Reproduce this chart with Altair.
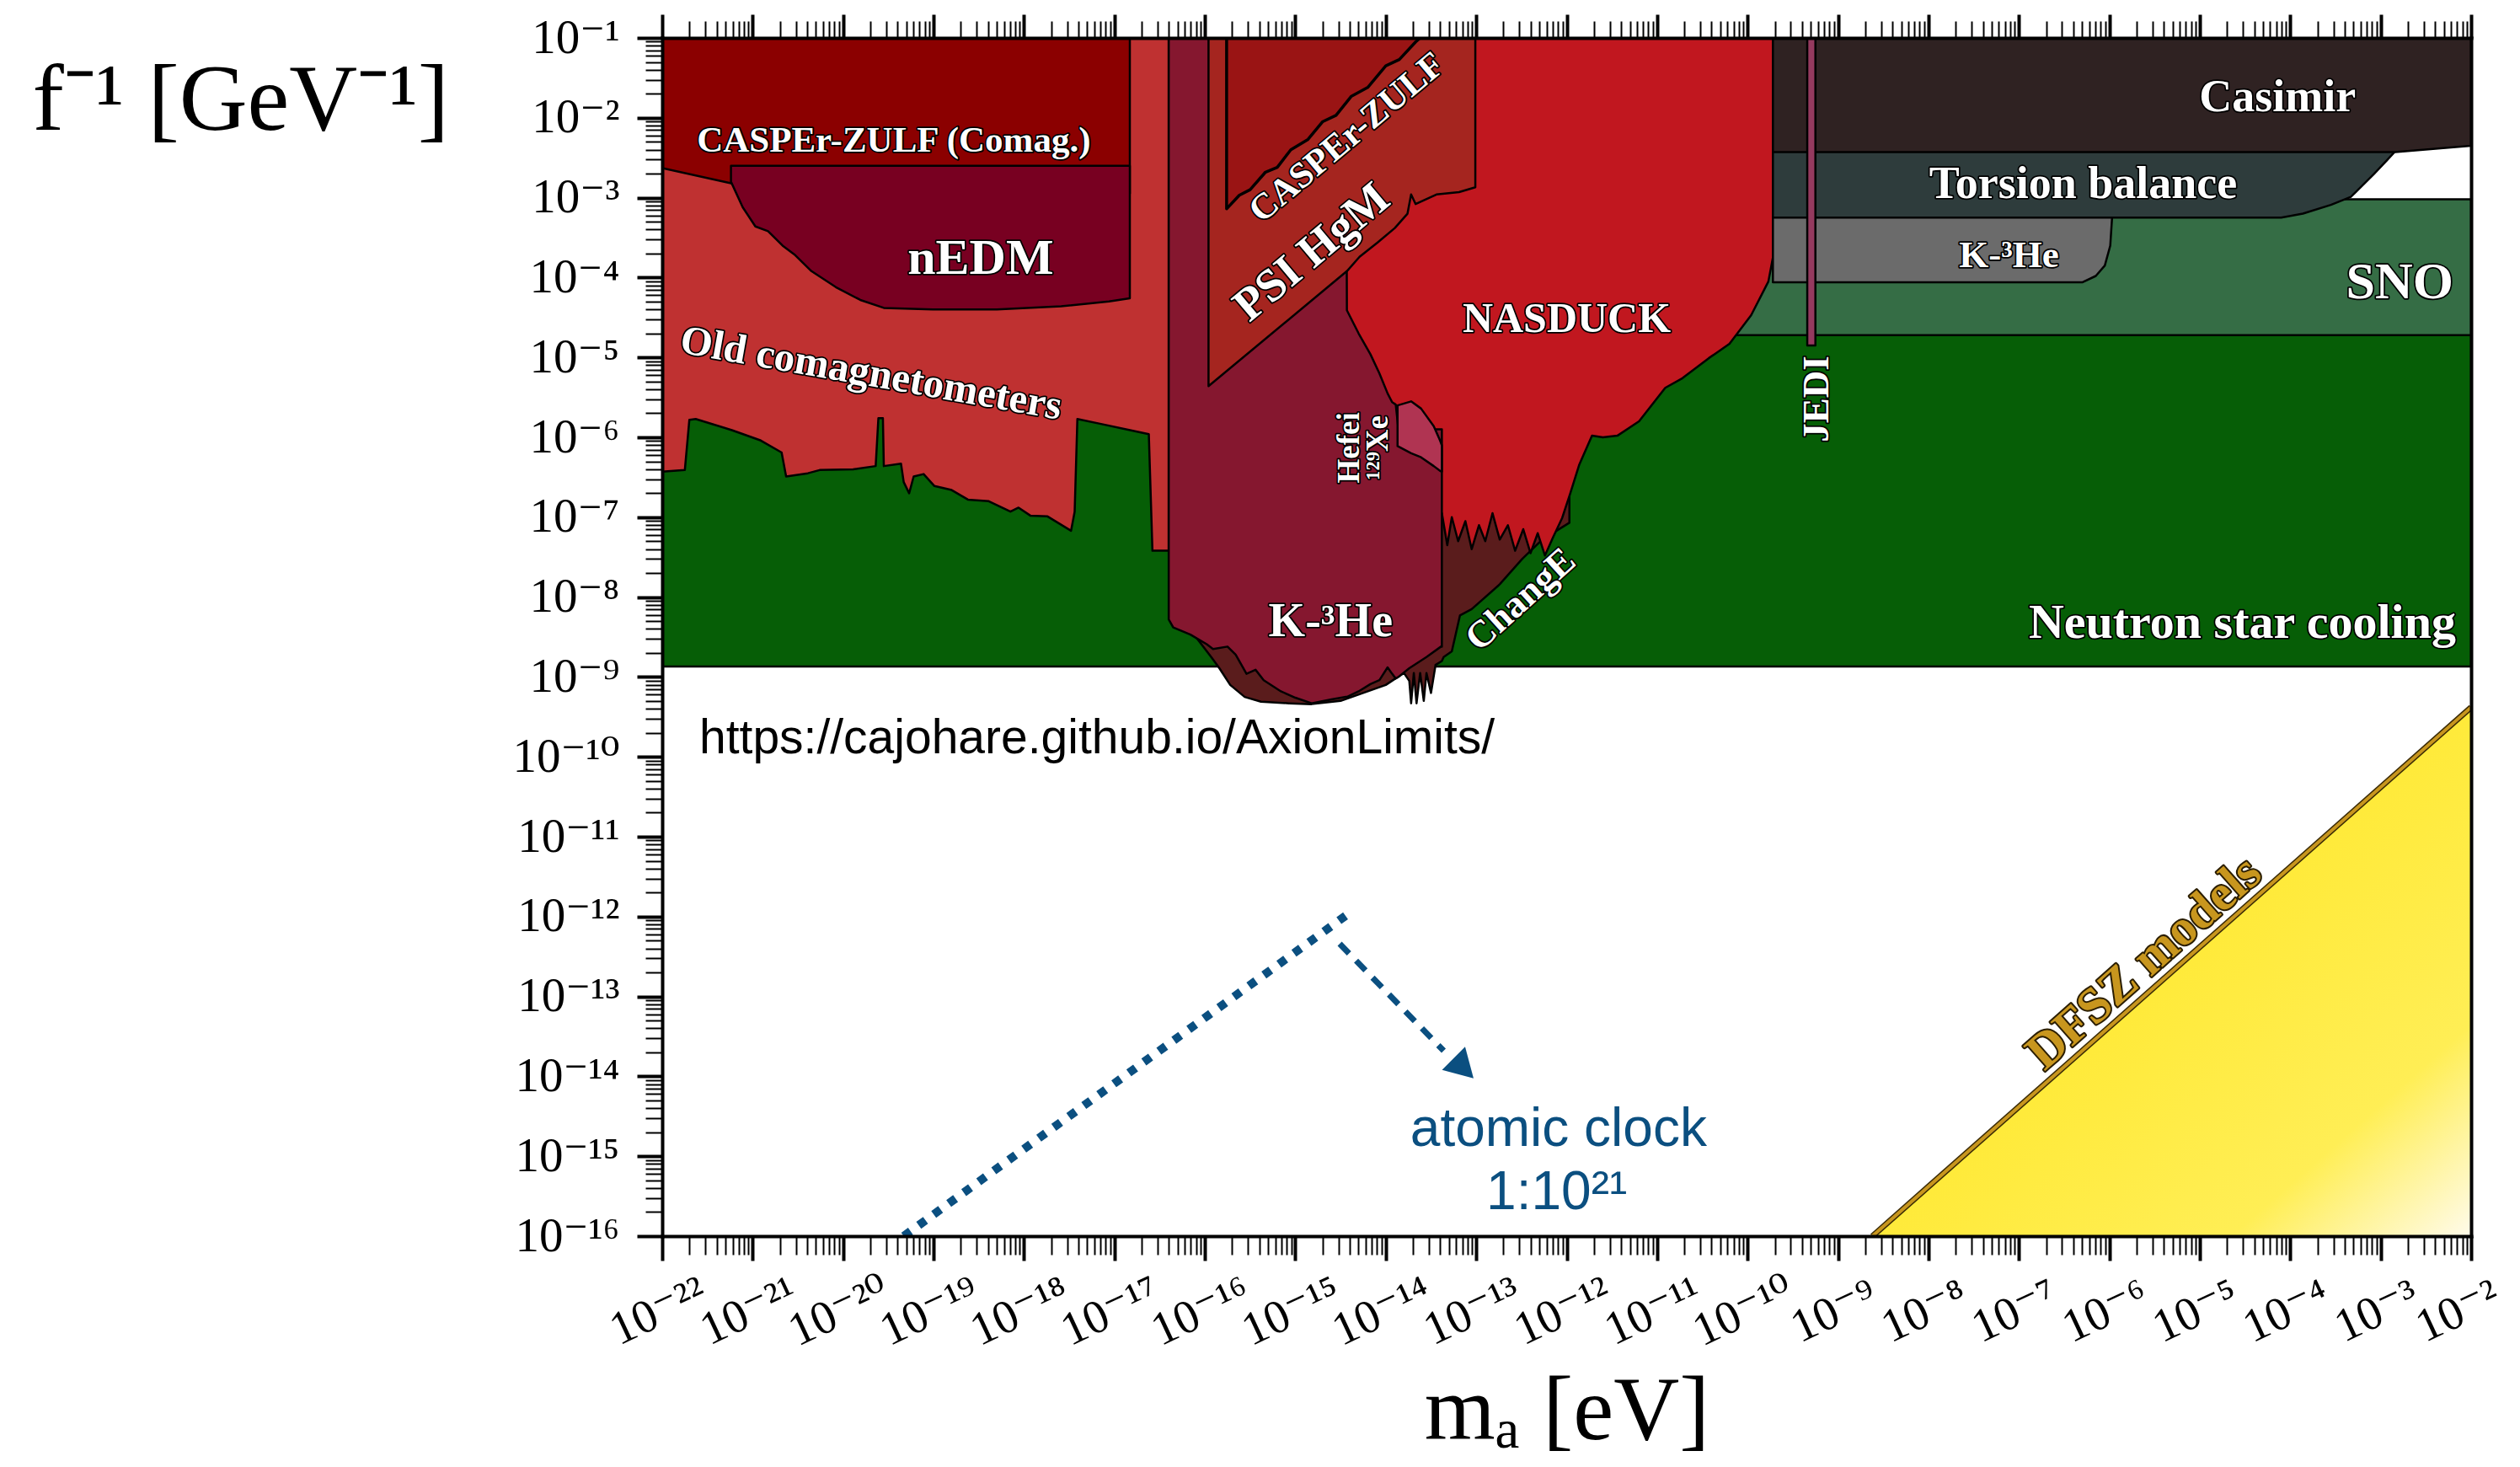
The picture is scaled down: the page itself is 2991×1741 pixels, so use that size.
import json
import altair as alt
import pandas as pd

SERIF = "Liberation Serif"
TICKFONT = "Liberation Serif, DejaVu Serif"
SANS = "Liberation Sans"

# ---------------- data (log10 exponents) ----------------
# x = log10(m_a / eV), y = log10(f^-1 / GeV^-1)
NS_X, NS_LO, NS_TOP = [-22.0, -2.0], [-8.87, -8.87], -4.72
SNO_X, SNO_LO, SNO_TOP = [-10.5, -2.0], [-4.72, -4.72], -3.02

OC_X = [-22.00, -21.75, -21.70, -21.63, -21.23, -20.91, -20.68, -20.63, -20.39, -20.26,
        -19.89, -19.64, -19.61, -19.56, -19.55, -19.36, -19.33, -19.27, -19.22, -19.11,
        -18.99, -18.80, -18.62, -18.39, -18.15, -18.06, -17.93, -17.74, -17.48, -17.44,
        -17.41, -17.16, -16.62, -16.58, -16.40]
OC_LO = [-6.43, -6.41, -5.78, -5.77, -5.91, -6.04, -6.19, -6.49, -6.45, -6.41,
         -6.40, -6.36, -5.76, -5.76, -6.36, -6.33, -6.56, -6.70, -6.49, -6.46,
         -6.61, -6.66, -6.78, -6.80, -6.93, -6.88, -6.98, -6.99, -7.17, -6.93,
         -5.77, -5.83, -5.96, -7.42, -7.42]
OC_TOP = -1.0

CC_X = [-22.00, -21.24, -20.83, -19.50, -18.50, -18.30, -18.10, -17.90, -17.70, -17.50,
        -17.30, -17.10, -16.95, -16.83]
CC_LO = [-2.63, -2.82, -2.94, -2.96, -2.96, -2.92, -2.99, -2.93, -2.99, -2.92,
         -2.98, -2.93, -2.97, -2.95]
CC_TOP = -1.0

NEDM_X = [-21.24, -21.11, -20.97, -20.83, -20.67, -20.53, -20.35, -20.08, -19.81, -19.55,
          -19.01, -18.30, -17.59, -17.06, -16.83]
NEDM_LO = [-2.80, -3.12, -3.36, -3.42, -3.60, -3.72, -3.92, -4.12, -4.28, -4.38,
           -4.40, -4.40, -4.36, -4.30, -4.26]
NEDM_TOP = -2.6

CH_X = [-16.10, -15.93, -15.84, -15.72, -15.56, -15.38, -15.07, -14.82, -14.50, -14.00,
        -13.80, -13.74, -13.72, -13.69, -13.66, -13.62, -13.58, -13.55, -13.50, -13.45,
        -13.38, -13.36, -13.27, -13.18, -13.05, -12.74, -12.49, -12.27, -11.97]
CH_LO = [-8.50, -8.75, -8.89, -9.10, -9.25, -9.31, -9.33, -9.34, -9.30, -9.10,
         -8.95, -9.05, -9.33, -8.95, -9.33, -8.95, -9.30, -8.95, -9.20, -8.85,
         -8.80, -8.75, -8.68, -8.23, -8.15, -7.84, -7.52, -7.28, -7.07]
CH_TOP = -5.0

NAS_X = [-14.44, -13.38, -13.32, -13.27, -13.20, -13.12, -13.05, -12.97, -12.90, -12.82,
         -12.74, -12.65, -12.57, -12.48, -12.40, -12.32, -12.24, -12.15, -12.05, -11.96,
         -11.86, -11.72, -11.60, -11.44, -11.20, -10.91, -10.72, -10.43, -10.20, -9.96,
         -9.77, -9.72]
NAS_LO = [-7.00, -6.95, -7.35, -7.00, -7.30, -7.05, -7.40, -7.10, -7.30, -6.95,
          -7.28, -7.10, -7.42, -7.15, -7.45, -7.20, -7.48, -7.25, -7.01, -6.70,
          -6.34, -5.98, -6.00, -5.98, -5.80, -5.38, -5.26, -5.01, -4.83, -4.47,
          -4.05, -3.75]
NAS_TOP = -1.0

K3B_X = [-16.40, -16.35, -16.16, -15.98, -15.91, -15.75, -15.66, -15.54, -15.44, -15.35,
         -15.16, -15.00, -14.82, -14.60, -14.44, -14.43, -14.30, -14.17, -14.07, -13.98,
         -13.93, -13.89, -13.86, -13.74, -13.55, -13.39, -13.38]
K3B_LO = [-8.28, -8.38, -8.47, -8.59, -8.65, -8.62, -8.72, -8.96, -8.91, -9.04,
          -9.18, -9.26, -9.33, -9.28, -9.25, -9.25, -9.18, -9.09, -9.04, -8.88,
          -8.96, -9.02, -9.00, -8.89, -8.75, -8.62, -8.62]
K3B_HI = [-1.00, -1.00, -1.00, -1.00, -1.00, -1.00, -1.00, -1.00, -1.00, -1.00,
          -1.00, -1.00, -1.00, -1.00, -1.00, -4.41, -4.70, -4.96, -5.20, -5.45,
          -5.56, -5.59, -5.90, -5.90, -5.90, -5.90, -5.90]

HF_X = [-13.87, -13.72, -13.61, -13.47, -13.40, -13.38]
HF_LO = [-6.11, -6.20, -6.25, -6.36, -6.42, -6.43]
HF_HI = [-5.60, -5.55, -5.64, -5.86, -6.04, -6.10]

PSI_X = [-15.96, -14.43, -14.29, -14.09, -13.90, -13.76, -13.72, -13.67, -13.44, -13.19, -13.01]
PSI_LO = [-5.36, -3.92, -3.74, -3.56, -3.38, -3.20, -2.96, -3.08, -2.96, -2.93, -2.87]
PSI_TOP = -1.0

CZ_X = [-15.76, -15.62, -15.50, -15.33, -15.20, -15.05, -14.86, -14.70, -14.55, -14.38,
        -14.20, -14.00, -13.85, -13.67, -13.60]
CZ_LO = [-3.14, -2.97, -2.90, -2.68, -2.62, -2.40, -2.27, -2.05, -1.97, -1.73,
         -1.62, -1.35, -1.27, -1.05, -0.98]
CZ_TOP = -1.0

K3R_X = [-9.72, -6.30, -6.15, -6.05, -5.99, -5.97]
K3R_LO = [-4.06, -4.06, -3.98, -3.85, -3.60, -3.25]
K3R_TOP = -3.0

TOR_X = [-9.72, -4.10, -3.86, -3.55, -3.33, -3.08, -2.93, -2.84]
TOR_LO = [-3.25, -3.25, -3.20, -3.09, -2.99, -2.71, -2.53, -2.42]
TOR_TOP = -2.0

CAS_X, CAS_LO, CAS_TOP = [-9.72, -2.84, -2.00], [-2.43, -2.43, -2.35], -1.0
JEDI_X, JEDI_LO, JEDI_TOP = [-9.34, -9.25], [-4.85, -4.85], -1.0

DFSZ_X, DFSZ_LO, DFSZ_HI = [-8.62, -2.00], [-16.0, -16.0], [-16.0, -9.38]

CLOCK_DOT_X, CLOCK_DOT_Y = [-19.33, -14.445], [-16.0, -11.99]
CLOCK_DASH_X, CLOCK_DASH_Y = [-14.51, -13.36], [-12.34, -13.68]
CLOCK_HEAD_X, CLOCK_HEAD_Y = [-13.14], [-13.90]

LAB_TEXT = ["CASPEr-ZULF (Comag.)", "nEDM", "Old comagnetometers", "PSI HgM", "CASPEr-ZULF",
            "NASDUCK", "Hefei", "¹²⁹Xe", "K-³He", "ChangE", "JEDI", "Casimir",
            "Torsion balance", "K-³He", "SNO", "Neutron star cooling"]
LAB_X = [-19.44, -18.48, -19.69, -14.82, -14.43, -12.00, -14.40, -14.08, -14.61, -12.51,
         -9.24, -4.14, -6.29, -7.11, -2.79, -4.53]
LAB_Y = [-2.29, -3.76, -5.20, -3.68, -2.25, -4.52, -6.13, -6.13, -8.31, -8.03,
         -5.52, -1.75, -2.84, -3.72, -4.06, -8.33]
LAB_ANG = [0, 0, 10, 320, 320, 0, 270, 270, 0, 318, 270, 0, 0, 0, 0, 0]
LAB_FS = [43, 60, 49, 55, 43, 50, 37, 37, 56, 45, 45, 54, 54, 45, 62, 58]

DFSZ_LAB = ["DFSZ models"]
DFSZ_LAB_X, DFSZ_LAB_Y = [-5.615], [-12.58]

CLOCK_TEXT = ["atomic clock", "1:10²¹"]
CLOCK_TEXT_X = [-12.09, -12.11]
CLOCK_TEXT_Y = [-14.87, -15.66]

URL_TEXT = ["https://cajohare.github.io/AxionLimits/"]
URL_X, URL_Y = [-21.59], [-9.78]

X_EXP = list(range(-22, -1))
Y_EXP = list(range(-16, 0))

# ---------------- helpers ----------------
def pw(v):
    return [10.0 ** e for e in v]


def region(xs, lo, hi):
    if not isinstance(hi, list):
        hi = [hi] * len(xs)
    return pd.DataFrame({"x": pw(xs), "lo": pw(lo), "hi": pw(hi)})


XS = alt.Scale(type="log", domain=[1e-22, 1e-2], nice=False)
YS = alt.Scale(type="log", domain=[1e-16, 1e-1], nice=False)

SUP = str.maketrans("-0123456789", "⁻⁰¹²³⁴⁵⁶⁷⁸⁹")
X_LABELS = ["10" + str(e).translate(SUP) for e in X_EXP]
Y_LABELS = ["10" + str(e).translate(SUP) for e in Y_EXP]
X_TICKS = [m * 10.0 ** k for k in range(-22, -2) for m in range(1, 10)] + [1e-2]
Y_TICKS = [m * 10.0 ** k for k in range(-16, -1) for m in range(1, 10)] + [1e-1]

TEST = "abs(log(datum.value)/LN10 - round(log(datum.value)/LN10)) < 0.01"


def cond(major, minor, test=TEST):
    return {"condition": {"test": test, "value": major}, "value": minor}


x_bottom = alt.Axis(
    orient="bottom", values=X_TICKS,
    labelExpr=f"{TEST} ? {json.dumps(X_LABELS, ensure_ascii=False)}[round(log(datum.value)/LN10) + 22] : ''",
    labelAngle=335, labelAlign="center", labelBaseline="middle", labelPadding=60,
    labelOffset=cond(-16, -5, "datum.value > 0.005"),
    labelFont=TICKFONT, labelFontSize=56, labelColor="black", labelOverlap=False, labelFlush=False,
    tickSize=cond(29, 22), tickWidth=cond(4, 2), tickColor="black",
    domain=True, domainColor="black", domainWidth=4, domainCap="square", grid=False,
    title="mₐ [eV]", titleFont=SERIF, titleFontSize=108, titleFontWeight="normal",
    titleColor="black", titleY=240, titleBaseline="alphabetic", zindex=1)

y_left = alt.Axis(
    orient="left", values=Y_TICKS,
    labelExpr=f"{TEST} ? {json.dumps(Y_LABELS, ensure_ascii=False)}[round(log(datum.value)/LN10) + 16] : ''",
    labelPadding=21, labelBaseline="middle", labelFont=TICKFONT, labelFontSize=57,
    labelColor="black", labelOverlap=False, labelFlush=False,
    tickSize=cond(30, 20), tickWidth=cond(4, 2), tickColor="black",
    domain=True, domainColor="black", domainWidth=4, domainCap="square", grid=False,
    title="f⁻¹ [GeV⁻¹]", titleFont=SERIF, titleFontSize=112, titleFontWeight="normal",
    titleColor="black", titleAngle=0, titleAlign="left", titleBaseline="alphabetic",
    titleX=-748, titleY=108, zindex=1)

x_top = alt.Axis(
    orient="top", values=X_TICKS, labels=False,
    tickSize=cond(28, 20), tickWidth=cond(4, 2), tickColor="black",
    domain=True, domainColor="black", domainWidth=4, domainCap="square", grid=False,
    title="", zindex=1)

y_right = alt.Axis(
    orient="right", ticks=False, labels=False,
    domain=True, domainColor="black", domainWidth=4, domainCap="square", grid=False,
    title="", zindex=1)


def area_layer(df, fill, sw=2.5, xaxis=None, yaxis=None):
    return alt.Chart(df).mark_area(
        fill=fill, stroke="black", strokeWidth=sw, strokeJoin="round", clip=True
    ).encode(
        x=alt.X("x:Q", scale=XS, axis=xaxis),
        y=alt.Y("lo:Q", scale=YS, axis=yaxis),
        y2=alt.Y2("hi:Q"),
    )


layers = [
    area_layer(region(NS_X, NS_LO, NS_TOP), "#065e06", xaxis=x_bottom, yaxis=y_left),
    area_layer(region(SNO_X, SNO_LO, SNO_TOP), "#356d45"),
    area_layer(region(OC_X, OC_LO, OC_TOP), "#bf3131"),
    area_layer(region(CC_X, CC_LO, CC_TOP), "#8b0000"),
    area_layer(region(NEDM_X, NEDM_LO, NEDM_TOP), "#780021"),
    area_layer(region(CH_X, CH_LO, CH_TOP), "#5a1c1c"),
    area_layer(region(NAS_X, NAS_LO, NAS_TOP), "#c1171f"),
    area_layer(region(K3B_X, K3B_LO, K3B_HI), "#85172f"),
    area_layer(region(HF_X, HF_LO, HF_HI), "#b03452"),
    area_layer(region(PSI_X, PSI_LO, PSI_TOP), "#a5251f"),
    area_layer(region(CZ_X, CZ_LO, CZ_TOP), "#9a1414", sw=3.5),
    area_layer(region(K3R_X, K3R_LO, K3R_TOP), "#6b6b6b"),
    area_layer(region(TOR_X, TOR_LO, TOR_TOP), "#2e3c3c"),
    area_layer(region(CAS_X, CAS_LO, CAS_TOP), "#2f2222"),
    area_layer(region(JEDI_X, JEDI_LO, JEDI_TOP), "#953a5f"),
]

# DFSZ band with gradient
dfsz_df = region(DFSZ_X, DFSZ_LO, DFSZ_HI)
layers.append(
    alt.Chart(dfsz_df).mark_area(
        fill=alt.Gradient(
            gradient="linear", x1=0, y1=0, x2=1, y2=1,
            stops=[alt.GradientStop(color="#ffea3a", offset=0.5),
                   alt.GradientStop(color="#ffee55", offset=0.8),
                   alt.GradientStop(color="#fffbea", offset=1.0)]),
        clip=True,
    ).encode(x=alt.X("x:Q", scale=XS, axis=None), y=alt.Y("lo:Q", scale=YS, axis=None), y2=alt.Y2("hi:Q"))
)
edge_df = pd.DataFrame({"x": pw(DFSZ_X), "y": pw(DFSZ_HI)})
for w, c in [(7, "#3a2a05"), (4, "#c8961e")]:
    layers.append(
        alt.Chart(edge_df).mark_line(color=c, strokeWidth=w, clip=True).encode(
            x=alt.X("x:Q", scale=XS, axis=None), y=alt.Y("y:Q", scale=YS, axis=None))
    )

BLUE = "#0b4f80"
dot_df = pd.DataFrame({"x": pw(CLOCK_DOT_X), "y": pw(CLOCK_DOT_Y)})
dash_df = pd.DataFrame({"x": pw(CLOCK_DASH_X), "y": pw(CLOCK_DASH_Y)})
head_df = pd.DataFrame({"x": pw(CLOCK_HEAD_X), "y": pw(CLOCK_HEAD_Y)})
layers.append(
    alt.Chart(dot_df).mark_line(color=BLUE, strokeWidth=10, strokeDash=[10, 12], strokeCap="butt", clip=True)
    .encode(x=alt.X("x:Q", scale=XS, axis=None), y=alt.Y("y:Q", scale=YS, axis=None))
)
layers.append(
    alt.Chart(dash_df).mark_line(color=BLUE, strokeWidth=7, strokeDash=[16, 12], strokeCap="butt")
    .encode(x=alt.X("x:Q", scale=XS, axis=None), y=alt.Y("y:Q", scale=YS, axis=None))
)
layers.append(
    alt.Chart(head_df).mark_point(shape="triangle-up", filled=True, size=1500, angle=135,
                                  color=BLUE, opacity=1)
    .encode(x=alt.X("x:Q", scale=XS, axis=None), y=alt.Y("y:Q", scale=YS, axis=None))
)

clock_df = pd.DataFrame({"text": CLOCK_TEXT, "x": pw(CLOCK_TEXT_X), "y": pw(CLOCK_TEXT_Y)})
layers.append(
    alt.Chart(clock_df).mark_text(font=SANS, fontSize=64, color=BLUE, align="center", baseline="alphabetic")
    .encode(x=alt.X("x:Q", scale=XS, axis=None), y=alt.Y("y:Q", scale=YS, axis=None), text="text:N")
)

url_df = pd.DataFrame({"text": URL_TEXT, "x": pw(URL_X), "y": pw(URL_Y)})
layers.append(
    alt.Chart(url_df).mark_text(font=SANS, fontSize=57, color="black", align="left", baseline="middle")
    .encode(x=alt.X("x:Q", scale=XS, axis=None), y=alt.Y("y:Q", scale=YS, axis=None), text="text:N")
)

lab_df = pd.DataFrame({"text": LAB_TEXT, "x": pw(LAB_X), "y": pw(LAB_Y), "ang": LAB_ANG, "fs": LAB_FS})
lab_enc = dict(
    x=alt.X("x:Q", scale=XS, axis=None), y=alt.Y("y:Q", scale=YS, axis=None), text="text:N",
    angle=alt.Angle("ang:Q", scale=None), size=alt.Size("fs:Q", scale=None),
)
layers.append(
    alt.Chart(lab_df).mark_text(font=SERIF, fontWeight="bold", fill="black", stroke="black", strokeWidth=3.5,
                                strokeJoin="round", align="center", baseline="middle").encode(**lab_enc)
)
layers.append(
    alt.Chart(lab_df).mark_text(font=SERIF, fontWeight="bold", fill="white",
                                align="center", baseline="middle").encode(**lab_enc)
)

dl_df = pd.DataFrame({"text": DFSZ_LAB, "x": pw(DFSZ_LAB_X), "y": pw(DFSZ_LAB_Y)})
for kw in [dict(fill="#2a1d00", stroke="#2a1d00", strokeWidth=4, strokeJoin="round"), dict(fill="#c8961e")]:
    layers.append(
        alt.Chart(dl_df).mark_text(font=SERIF, fontSize=60, fontWeight="bold", angle=318.5,
                                   align="center", baseline="middle", **kw)
        .encode(x=alt.X("x:Q", scale=XS, axis=None), y=alt.Y("y:Q", scale=YS, axis=None), text="text:N")
    )

# top / right frame axes
layers.append(
    alt.Chart(region(NS_X, NS_LO, NS_TOP)).mark_point(opacity=0).encode(
        x=alt.X("x:Q", scale=XS, axis=x_top), y=alt.Y("lo:Q", scale=YS, axis=y_right))
)

chart = (
    alt.layer(*layers)
    .resolve_axis(x="independent", y="independent")
    .properties(
        width=2147, height=1422,
        autosize=alt.AutoSizeParams(type="none"),
        padding={"left": 778, "top": 37, "right": 50, "bottom": 266},
    )
    .configure_view(strokeWidth=0)
    .configure(background="white")
)

chart.save("out.html", embed_options={"renderer": "svg", "actions": False})
